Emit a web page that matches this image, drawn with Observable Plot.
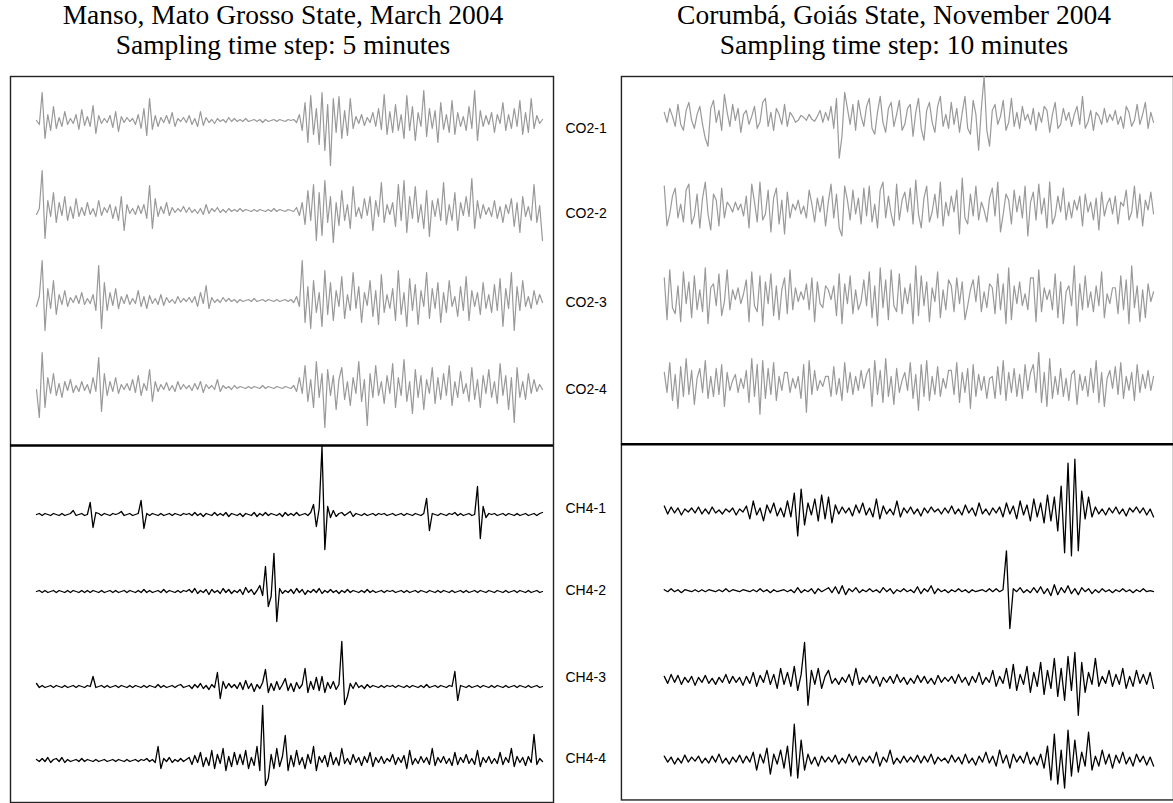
<!DOCTYPE html>
<html><head><meta charset="utf-8">
<script src="https://cdn.jsdelivr.net/npm/d3@7"></script>
<script src="https://cdn.jsdelivr.net/npm/@observablehq/plot@0.6"></script>
<style>
html,body{margin:0;padding:0;background:#fff}
body{overflow:hidden;width:1173px;height:803px;position:relative}
.title{position:absolute;font-family:"Liberation Serif","Times New Roman",serif;font-size:27.5px;line-height:30px;height:30px;text-align:center;color:#000;white-space:nowrap}
#left{position:absolute;left:0;top:75px}
#right{position:absolute;left:600px;top:75px}
#left svg text{font-size:14px}
</style></head><body>
<div class="title" style="left:0;width:566px;top:0px">Manso, Mato Grosso State, March 2004</div>
<div class="title" style="left:0;width:566px;top:30px">Sampling time step: 5 minutes</div>
<div class="title" style="left:614px;width:560px;top:0px">Corumbá, Goiás State, November 2004</div>
<div class="title" style="left:614px;width:560px;top:30px">Sampling time step: 10 minutes</div>
<div id="left"></div><div id="right"></div>
<script>
// ---------- DATA (relative fluctuation, arbitrary units) ----------
const seriesNames = ["CO2-1","CO2-2","CO2-3","CO2-4","CH4-1","CH4-2","CH4-3","CH4-4"];

// Manso, 5-minute step
const mansoCO2_1 = [0,-4,28,-18,6,-10,14,-8,3,-6,9,-4,2,-3,6,-9,11,-5,
 4,-6,15,-13,5,-3,2,-2,5,-7,9,-11,4,-2,3,-1,2,-4,
 6,-8,12,-15,22,-9,5,-6,3,-2,5,-3,8,-6,2,-1,3,-2,
 5,-4,2,-6,9,-5,3,-2,1,-3,2,-1,1,-2,3,-1,2,-1,
 1,-1,2,-1,0,1,-1,1,-2,1,-1,0,1,-1,1,0,-1,1,
 0,1,-2,6,-10,18,-22,25,-14,12,-24,28,-30,16,-45,22,-12,24,
 -18,10,-15,22,-8,4,-3,6,-5,3,-2,8,-6,12,-9,26,-14,9,
 -12,16,-10,6,-18,25,-10,14,-20,8,-6,30,-16,12,-8,10,-22,18,
 -9,6,-12,20,-14,8,-6,4,-10,14,-8,30,-20,10,-6,5,-4,8,
 -12,6,-3,18,-10,6,-8,12,-6,20,-14,8,-12,22,-8,5,-3,1];
const mansoCO2_2 = [-4,2,40,-28,10,-6,18,-12,8,-5,14,-10,4,-8,12,-6,3,-5,
 8,-4,2,-6,10,-5,3,-2,6,-8,4,-10,14,-20,6,-3,2,-4,
 5,-3,6,-8,25,-18,12,-6,4,-3,8,-5,3,-2,2,-1,4,-2,
 3,-2,1,-3,2,-4,6,-3,2,-1,3,-2,1,-2,2,-1,1,-1,
 2,-1,1,0,-1,1,-1,1,0,-1,1,-1,2,-1,1,0,-1,1,
 0,-1,3,-5,8,-14,20,-10,26,-30,18,-25,30,-12,14,-32,8,-15,
 20,-10,6,-18,24,-6,3,-8,12,-5,14,-20,10,-6,28,-12,6,-4,
 8,-16,26,-10,30,-22,14,-8,24,-12,6,-18,20,-26,10,-6,12,-10,
 28,-14,6,-10,18,-20,8,-5,14,-6,32,-18,10,-8,6,-4,3,-6,
 10,-8,4,-12,6,-3,12,-16,8,-22,14,-6,4,-10,26,-12,5,-30];
const mansoCO2_3 = [-6,4,40,-30,12,-8,20,-14,6,-4,10,-6,3,-2,5,-3,8,-4,
 2,-3,6,-10,35,-28,18,-10,8,-5,12,-8,4,-3,6,-4,2,-3,
 10,-6,4,-8,5,-3,2,-4,6,-5,3,-2,1,-3,4,-2,2,-1,
 3,-2,4,-6,8,-3,15,-8,3,-2,1,-2,3,-1,2,-1,1,-2,
 1,-1,0,1,-1,2,-1,0,1,-1,1,0,-1,1,-1,0,1,-1,
 1,-2,4,-6,40,-22,14,-28,20,-12,8,-26,30,-14,18,-20,10,-6,
 24,-18,6,-10,28,-8,14,-22,8,-5,20,-16,10,-24,26,-12,6,-8,
 12,-20,30,-14,8,-26,22,-10,16,-24,10,-6,28,-18,12,-8,18,-22,
 8,-12,20,-6,4,-16,14,-10,24,-20,10,-6,8,-14,18,-8,6,-12,
 16,-10,22,-26,12,-8,28,-30,14,-10,20,-6,4,-8,10,-4,6,-2];
const mansoCO2_4 = [-2,-30,35,-20,10,-6,14,-8,4,-10,6,-3,8,-5,2,-4,6,-3,
 3,-6,10,-4,30,-24,14,-8,6,-4,10,-6,3,-2,4,-3,8,-5,
 12,-8,4,-3,18,-14,6,-4,3,-2,5,-3,2,-4,6,-2,3,-1,
 2,-3,4,-2,6,-5,3,-1,2,-2,8,-4,2,-1,1,-2,2,-1,
 1,0,-1,1,-1,1,0,-1,2,-1,1,0,-1,1,0,-1,1,0,
 -1,2,-4,10,-6,22,-14,8,-20,26,-10,14,-40,18,-8,12,-22,8,
 20,-12,6,-18,10,-6,26,-14,8,-38,14,-10,22,-8,6,-16,12,-6,
 24,-20,10,-8,28,-14,6,-26,18,-10,12,-22,8,-6,20,-16,10,-12,
 14,-8,22,-18,6,-10,16,-6,4,-14,20,-12,8,-20,12,-6,18,-10,
 6,-16,24,-8,12,-22,10,-35,20,-10,6,-12,14,-6,8,-4,3,-2];
const mansoCH4_1 = [0,1,-1,1,0,-1,1,0,-1,1,-1,0,1,4,-1,0,1,-1,
 0,12,-13,2,1,-1,1,0,-1,1,0,1,3,-1,0,1,-1,0,
 1,14,-14,1,-1,1,0,-1,1,-1,0,1,-1,1,0,-1,1,0,
 1,-1,2,-1,1,-2,1,0,-1,2,-1,1,-1,2,-2,1,0,-1,
 1,-2,1,0,-1,2,-2,1,-1,2,-1,1,0,-1,1,-2,2,-1,
 1,-1,2,-1,0,1,-1,2,10,-12,6,68,-35,8,-3,4,-2,1,
 2,-1,1,3,-2,1,0,-1,1,-1,0,1,-1,1,0,1,-1,0,
 1,-1,0,1,-1,1,0,-1,1,0,-1,1,16,-16,1,0,-1,1,
 0,-1,1,0,2,-1,1,-1,0,1,-1,0,28,-24,8,-3,1,0,
 1,-1,0,1,-1,1,0,-1,1,-1,0,1,-1,0,1,-1,1,2];
const mansoCH4_2 = [0,1,-1,1,-1,0,1,-1,1,0,-1,1,-1,1,0,-1,1,-1,
 1,-1,1,0,-1,1,-1,0,1,-1,1,-1,0,1,-1,1,0,-1,
 1,-1,2,-1,1,-1,0,1,-1,2,-1,1,0,-1,1,-1,1,0,
 2,-1,3,-2,1,-1,2,-3,2,-1,1,-2,3,-1,2,-2,1,-1,
 2,-3,4,-1,2,-3,1,6,-4,25,-15,-5,38,-30,3,-2,1,-1,
 2,-2,3,-1,2,-3,1,-1,2,-1,3,-2,1,-1,2,-1,1,-2,
 1,-1,2,-1,1,0,-1,1,-1,2,-1,1,-1,0,1,-1,1,0,
 1,-1,0,1,-1,1,-1,0,1,-1,1,0,-1,1,0,-1,1,-1,
 1,0,-1,1,-1,0,1,-1,1,-1,0,1,-1,1,0,-1,1,0,
 -1,1,0,-1,1,-1,0,1,-1,1,0,-1,1,-1,0,1,-1,0];
const mansoCH4_3 = [3,-1,1,-1,0,1,-1,1,0,-1,1,-1,0,1,-1,1,0,-1,
 1,0,10,-1,0,1,-1,1,-1,0,1,-1,1,0,-1,1,-1,1,
 0,-1,1,-1,1,0,-1,2,-1,1,-1,0,1,-1,1,2,-1,0,
 1,-2,2,-1,3,-2,1,-3,2,-1,14,-12,5,-2,3,-1,2,-2,
 4,-3,6,-2,3,-5,2,-2,4,17,-6,3,-4,5,-3,2,8,-4,
 3,-5,4,-2,2,18,-6,5,-3,9,-4,10,-6,4,-2,5,-3,2,
 45,-18,-10,3,-2,4,-1,1,-2,2,-1,1,0,-1,1,-1,1,0,
 1,-1,1,0,-1,1,-1,1,0,-1,1,-1,2,-1,0,1,-1,1,
 0,-1,1,0,15,-14,1,0,-1,1,-1,0,1,-1,1,0,-1,1,
 -1,1,0,-1,1,-1,0,1,-1,1,0,-1,1,-1,0,1,-1,0];
const mansoCH4_4 = [1,-1,2,-1,3,-2,1,2,-1,3,-2,1,-1,0,1,-1,2,-1,
 1,0,-1,1,-1,0,1,-1,0,1,-1,1,0,-1,1,-1,0,1,
 -1,1,0,2,-1,1,-2,14,-8,2,-1,3,-2,1,-1,2,-1,1,
 3,-4,5,-2,8,-6,3,-5,10,-8,6,-3,12,-10,4,-6,8,-4,
 6,-4,10,-8,3,-5,14,-10,55,-25,-18,6,-8,12,-6,4,25,-10,
 5,-6,10,-4,3,-8,6,-3,14,-10,4,-2,5,-6,8,-4,3,-5,
 12,-3,2,-4,6,-2,3,-5,4,-2,8,-6,3,-2,4,-3,2,-1,
 6,-4,3,-2,5,-8,10,-4,2,-3,4,-2,3,-4,12,-5,3,-2,
 4,-3,2,-5,8,-4,3,-2,6,-3,2,-4,10,-6,3,-2,4,-3,
 2,-3,8,-4,3,-2,12,-6,4,-2,3,-5,4,-2,26,-4,2,-1];

// Corumbá, 10-minute step
const corumbaCO2_1 = [6,-4,10,2,-8,14,-6,-12,8,16,-2,-10,4,12,-6,
 -20,-28,10,18,-4,8,-12,24,6,-8,14,-2,10,-14,4,
 8,-6,2,12,-10,-4,16,20,-8,6,-12,10,4,-6,14,
 -8,6,2,-4,-2,3,1,-2,4,-1,-3,2,8,-4,6,
 -2,12,-10,20,-40,-18,26,10,-6,14,-12,18,2,-8,12,
 20,-10,-16,6,22,-4,-14,10,16,-8,4,18,-12,-6,10,
 14,-18,6,20,-10,-22,8,16,-4,-14,12,22,-8,4,-10,
 16,-6,10,-14,6,22,-10,-16,18,4,-32,10,42,-12,-28,
 8,14,-6,2,18,-12,-4,20,-8,6,-10,12,-2,4,-6,
 10,-12,6,-4,12,8,-14,4,16,-10,-6,10,-2,6,-8,
 4,12,-6,22,-10,-4,8,-12,6,2,-6,10,-4,4,-2,
 8,-6,2,-10,12,6,-8,-2,14,-6,4,16,-10,6,-4];
const corumbaCO2_2 = [22,-18,-6,12,20,-10,4,-14,18,24,-16,-8,14,-20,10,
 26,-6,-22,14,8,-18,20,-10,6,2,-4,6,-2,4,-8,
 12,-20,24,6,-14,26,-12,-6,18,-24,10,20,-16,8,-26,
 16,-10,4,-2,8,-6,2,-10,18,4,-14,10,-4,12,-18,
 6,24,-10,14,-20,-28,22,8,-12,18,-6,10,-16,20,-8,
 22,-14,4,-20,18,26,-10,12,-6,-18,24,-12,8,16,-4,
 20,-16,28,-6,-20,10,22,-14,-4,14,-10,26,-18,6,-8,
 12,-4,18,-26,30,-10,-16,14,-8,22,-12,6,-2,-14,10,
 20,-8,26,-24,-6,14,8,-16,18,-4,12,-10,22,-28,6,
 16,-12,24,-6,10,-20,26,-16,-8,12,-4,20,-12,6,-10,
 8,-2,12,-18,14,-4,6,-12,10,-22,16,-8,4,10,-6,
 12,-16,6,2,18,-12,-4,22,-10,14,-18,8,-2,16,-6];
const corumbaCO2_3 = [20,-22,28,-10,-16,12,-24,26,-6,16,-20,22,-12,8,-14,
 30,-26,10,14,-8,24,-18,-4,28,-12,8,-2,10,-6,4,
 18,-24,26,-8,-14,22,-28,16,-6,24,-18,12,-22,8,20,
 -16,28,-12,10,-4,6,-2,14,-12,20,-24,16,-6,-10,12,
 8,-2,12,-18,24,-26,14,-6,22,-16,8,-12,-4,18,-8,
 26,-20,12,-28,30,-10,18,-22,28,-8,-14,24,-16,10,-6,
 14,-26,32,-18,22,-8,16,-24,10,-4,26,-20,8,-12,18,
 12,-14,20,-6,16,-22,-8,8,18,-4,22,-14,6,-10,14,
 10,-16,24,-12,14,-26,30,-22,12,-6,16,-8,4,-12,20,
 20,-24,28,-14,10,-2,8,-12,24,-20,16,-26,6,12,-8,
 32,-28,14,-12,22,-10,6,-14,12,-8,26,-20,4,-6,10,
 10,-16,22,-12,18,-26,32,-10,12,-24,8,-20,14,-4,6];
const corumbaCO2_4 = [12,-8,22,-16,10,-24,18,-12,26,-10,14,-20,6,16,-8,
 24,-14,8,-12,16,-10,20,-22,12,-6,4,10,-8,6,-4,
 14,-18,26,-12,20,-30,24,-14,16,-10,22,-16,8,-6,12,
 12,-8,6,-4,8,-14,20,-28,24,-10,14,-6,4,-2,8,
 8,-12,18,-10,6,-16,22,-8,12,-10,8,-6,14,-4,10,
 16,-22,24,-10,14,-18,26,-12,8,-20,16,-8,4,12,-6,
 22,-14,10,-26,20,-12,24,-16,8,-10,18,-12,6,-4,14,
 14,-10,22,-18,12,-8,16,-24,20,-12,10,-6,8,-14,6,
 8,-14,18,-10,24,-16,12,-8,16,-12,10,-14,20,-6,12,
 20,-8,32,-18,12,-22,26,-14,8,-10,16,-12,6,-16,10,
 14,-20,10,-6,8,-12,16,-8,24,-18,12,-22,6,14,-4,
 18,-10,22,-14,8,-6,12,-16,20,-8,10,-4,14,-6,8];
const corumbaCH4_1 = [5,-3,4,-2,3,-4,2,-1,3,-2,4,-3,
 2,-3,4,-2,1,-3,2,-1,3,-4,2,-1,
 5,-8,10,-4,3,-10,6,-2,8,-5,3,-6,
 10,-6,18,-25,22,-14,8,-4,12,-10,16,-8,
 14,-12,6,-3,4,-2,3,-5,6,-2,8,-4,
 3,-6,12,-8,5,-3,2,-4,10,-6,3,-2,
 4,-3,2,-5,3,-2,4,-1,2,-3,3,-2,
 5,-3,2,-4,6,-2,3,-5,8,-3,2,-4,
 3,-2,4,-6,8,-3,5,-8,10,-4,6,-10,
 12,-6,8,-12,16,-10,14,-20,25,-42,48,-45,
 52,-40,20,-8,14,-6,4,-3,2,-4,3,-2,
 4,-3,2,-5,3,-1,4,-2,3,-4,2,-6];
const corumbaCH4_2 = [1,-1,2,-1,1,-2,1,0,-1,1,-1,1,
 -1,1,0,-1,1,-1,2,-1,1,0,-1,1,
 0,-1,1,-1,2,-1,1,-2,1,-1,0,1,
 -1,1,-2,3,-2,1,-1,2,-3,2,-1,1,
 3,-2,4,-3,5,-4,2,-1,3,-2,1,-1,
 2,-1,1,-2,3,-1,2,-3,1,-1,2,-1,
 1,-2,4,-3,2,-1,5,-3,2,-1,1,-2,
 1,-1,2,-1,1,-2,1,-1,0,1,-1,2,
 -1,2,-1,1,40,-38,2,-1,3,-2,1,-2,
 3,-2,4,-3,2,-5,6,-4,3,-2,5,-3,
 2,-4,3,-1,2,-3,1,-2,2,-1,1,-2,
 1,-1,2,-1,1,-2,1,-1,2,-1,0,-1];
const corumbaCH4_3 = [4,-3,6,-2,5,-4,3,-2,4,-5,3,-2,
 5,-3,2,-4,3,-2,6,-3,4,-2,3,-5,
 4,-3,8,-6,5,-2,10,-4,6,-8,12,-4,
 8,-6,14,-10,6,38,-25,10,-4,12,-8,4,
 10,-3,2,-4,3,-2,6,-5,12,-4,3,-2,
 5,-3,4,-6,3,-2,4,-3,6,-2,3,-4,
 2,-3,5,-2,4,-3,2,-4,5,-2,3,-1,
 4,-3,6,-2,3,-5,4,-2,8,-4,3,-2,
 10,-6,4,-3,12,-8,16,-10,6,-4,14,-12,
 8,-6,18,-14,10,-8,22,-16,12,-20,24,-10,
 28,-35,18,-12,8,-4,22,-6,4,-3,10,-6,
 6,-4,12,-8,4,-6,10,-3,6,-4,8,-8];
const corumbaCH4_4 = [4,-2,3,-4,2,-3,5,-2,3,-1,4,-3,
 2,-3,4,-2,6,-3,2,-4,3,-2,5,-3,
 4,-2,8,-10,6,-3,12,-14,6,-4,10,-8,
 14,-16,36,-18,20,-10,6,-4,3,-6,4,-2,
 3,-2,5,-4,2,-3,6,-2,4,-5,3,-2,
 4,-3,8,-6,3,-2,10,-4,2,-3,4,-2,
 3,-2,5,-3,4,-2,6,-4,3,-1,2,-3,
 5,-2,3,-4,6,-3,2,-5,4,-2,8,-3,
 4,-6,10,-3,5,-8,6,-2,4,-3,8,-4,
 3,-5,6,-8,14,-20,26,-24,10,-28,30,-16,
 20,-12,8,-6,28,-10,4,-6,10,-4,6,-8,
 5,-3,8,-4,3,-6,6,-2,4,-5,3,-6];

const mansoSeries = [mansoCO2_1,mansoCO2_2,mansoCO2_3,mansoCO2_4,mansoCH4_1,mansoCH4_2,mansoCH4_3,mansoCH4_4];
const corumbaSeries = [corumbaCO2_1,corumbaCO2_2,corumbaCO2_3,corumbaCO2_4,corumbaCH4_1,corumbaCH4_2,corumbaCH4_3,corumbaCH4_4];

// ---------- LAYOUT ----------
const TOP = 76;                  // page y of frame top
const divider = 445 - TOP;
const leftCenters  = [120,210,300,387,514,591,686,760].map(v => v - TOP);
const rightCenters = [118,208,298,385,512,592,682,762].map(v => v - TOP);
const labelPos     = [128,213,302,389,508,590,677,758].map(v => v - TOP);
const H = 728;

function rowsFor(series, centers) {
  const rows = [];
  series.forEach((vals, k) => {
    const n = vals.length;
    vals.forEach((v, i) => rows.push({t: i / (n - 1), y: centers[k] - v, name: seriesNames[k], gas: k < 4 ? "CO2" : "CH4"}));
  });
  return rows;
}

function panel(series, centers, width, mL, mR, insL, insR, withLabels) {
  const rows = rowsFor(series, centers);
  const marks = [
    Plot.frame({stroke: "#222", strokeWidth: 1.4}),
    Plot.ruleY([divider], {stroke: "#000", strokeWidth: 2.6}),
    Plot.line(rows.filter(d => d.gas === "CO2"), {x: "t", y: "y", z: "name", stroke: "#999", strokeWidth: 1.2}),
    Plot.line(rows.filter(d => d.gas === "CH4"), {x: "t", y: "y", z: "name", stroke: "#000", strokeWidth: 1.3})
  ];
  if (withLabels) {
    const nameAt = new Map(labelPos.map((p, i) => [p, seriesNames[i]]));
    marks.push(Plot.axisY(labelPos, {anchor: "right", tickSize: 0, tickPadding: 12, tickFormat: d => nameAt.get(d), fontSize: 14, fill: "#000", label: null}));
  }
  return Plot.plot({
    width, height: H,
    marginLeft: mL, marginRight: mR, marginTop: 1, marginBottom: 1,
    insetLeft: insL, insetRight: insR,
    x: {domain: [0, 1], axis: null},
    y: {domain: [0, H - 2], reverse: true, axis: null},
    style: {fontFamily: "'Liberation Sans', Arial, sans-serif", fontSize: "14px", background: "transparent", overflow: "visible"},
    marks
  });
}

document.getElementById("left").append(panel(mansoSeries, leftCenters, 596, 10, 43, 26, 11, true));
document.getElementById("right").append(panel(corumbaSeries, rightCenters, 575, 21, 0, 43, 20, false));
</script>
</body></html>
